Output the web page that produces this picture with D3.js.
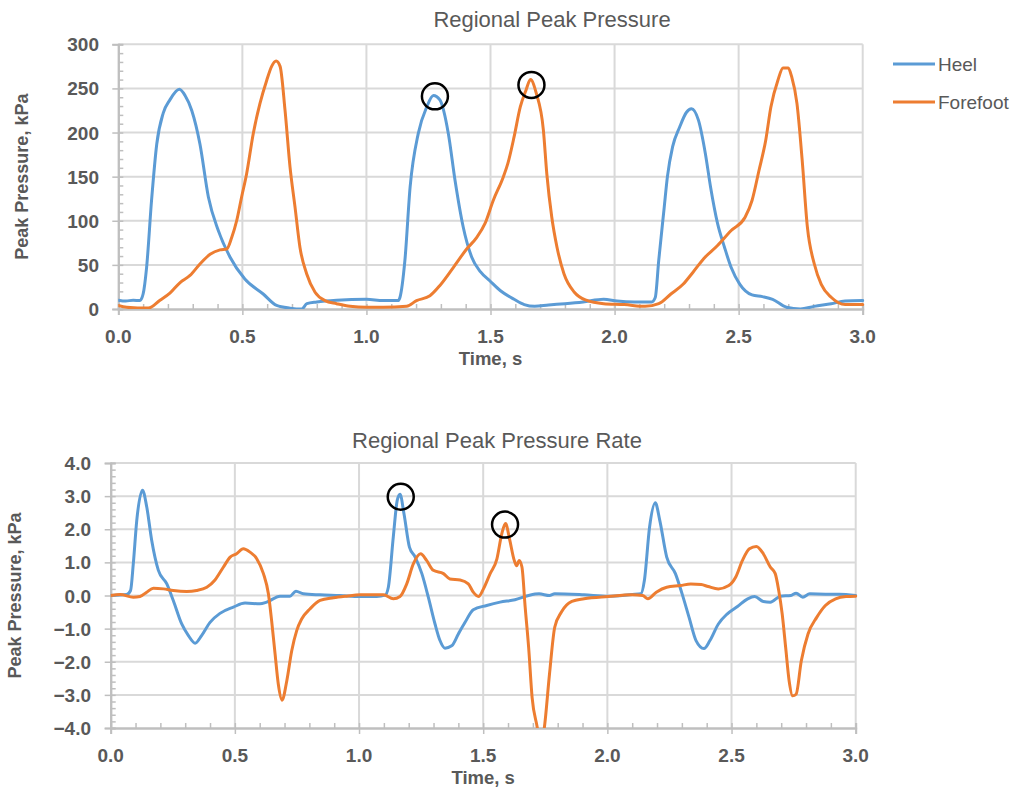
<!DOCTYPE html>
<html>
<head>
<meta charset="utf-8">
<script src="https://cdn.jsdelivr.net/npm/d3@7"></script>
<style>
  html, body { margin: 0; padding: 0; background: #ffffff; }
  svg { display: block; }
  text { font-family: "Liberation Sans", Arial, sans-serif; fill: #595959; }
</style>
</head>
<body>
<svg id="chart" width="1021" height="792"></svg>
<script>
// ---------------- DATA ----------------
const seriesNames = ["Heel", "Forefoot"];
const seriesColors = ["#5B9BD5", "#ED7D31"];

const timeTicks = [0.0, 0.5, 1.0, 1.5, 2.0, 2.5, 3.0];
const pressureTicks = [0, 50, 100, 150, 200, 250, 300];
const rateTicks = [-4, -3, -2, -1, 0, 1, 2, 3, 4];

// [time (s), peak pressure (kPa)]
const heelPressure = [[0,10],[0.03,9],[0.06,10],[0.087,9.5],[0.1,17],[0.114,47],[0.134,123],[0.155,187],[0.181,222],[0.208,237],[0.246,249],[0.269,242],[0.296,225],[0.329,187],[0.363,127],[0.403,89],[0.45,59],[0.51,34],[0.584,17],[0.638,4],[0.692,1],[0.739,0],[0.76,6],[0.8,8],[0.88,10],[1.0,11],[1.068,9.5],[1.128,9.5],[1.135,13],[1.155,55],[1.176,138],[1.209,199],[1.243,229],[1.27,242],[1.296,237],[1.33,199],[1.357,146],[1.39,93],[1.424,59],[1.46,42],[1.497,32],[1.539,21],[1.595,11],[1.636,5],[1.678,3],[1.734,4.5],[1.8,6],[1.873,8],[1.956,11],[2.01,9],[2.08,8],[2.15,8],[2.164,13],[2.178,55],[2.2,115],[2.213,150],[2.234,184],[2.262,206],[2.29,223],[2.31,227],[2.338,214],[2.366,176],[2.387,138],[2.415,97],[2.443,70],[2.47,47],[2.505,28],[2.554,16],[2.596,14],[2.637,11],[2.693,2],[2.749,0],[2.804,3],[2.873,6],[2.929,9],[3.0,9.5]];

const forefootPressure = [[0,4],[0.034,2],[0.121,1],[0.168,10],[0.208,18],[0.249,30],[0.289,38],[0.329,51],[0.37,62],[0.41,67],[0.437,68],[0.457,81],[0.477,100],[0.497,127],[0.517,153],[0.544,199],[0.571,233],[0.598,259],[0.618,275],[0.636,281],[0.652,275],[0.672,225],[0.692,161],[0.712,116],[0.732,70],[0.759,40],[0.793,19],[0.833,9.5],[0.88,6],[0.934,3],[1.0,2],[1.068,2],[1.162,3],[1.202,9.5],[1.256,15],[1.297,27],[1.35,47],[1.404,68],[1.444,81],[1.478,97],[1.511,123],[1.552,150],[1.57,165],[1.595,195],[1.62,229],[1.643,248],[1.661,260],[1.685,244],[1.713,203],[1.727,153],[1.747,104],[1.768,70],[1.796,40],[1.838,19],[1.886,10],[1.956,6],[2.039,5],[2.123,3],[2.178,6],[2.227,17],[2.276,28],[2.317,42],[2.359,57],[2.415,72],[2.47,89],[2.526,104],[2.554,123],[2.582,157],[2.609,191],[2.63,229],[2.658,259],[2.679,273],[2.7,273],[2.714,263],[2.735,233],[2.756,169],[2.777,93],[2.805,51],[2.833,28],[2.874,13],[2.929,5],[3.0,5]];

// [time (s), peak pressure rate]
const heelRate = [[0,0],[0.064,0.03],[0.08,0.15],[0.091,0.96],[0.105,2.27],[0.128,3.18],[0.145,2.68],[0.165,1.67],[0.192,0.76],[0.226,0.35],[0.252,-0.15],[0.286,-0.86],[0.313,-1.21],[0.34,-1.44],[0.366,-1.21],[0.4,-0.81],[0.44,-0.54],[0.494,-0.35],[0.541,-0.23],[0.601,-0.25],[0.628,-0.2],[0.682,-0.02],[0.722,-0.02],[0.746,0.13],[0.776,0.05],[0.843,0.02],[0.923,0],[1.004,-0.03],[1.071,-0.03],[1.105,0.01],[1.118,0.25],[1.138,1.77],[1.154,2.88],[1.165,3.06],[1.181,2.47],[1.203,1.46],[1.226,1.16],[1.253,0.66],[1.279,-0.05],[1.306,-0.86],[1.326,-1.36],[1.346,-1.59],[1.373,-1.52],[1.4,-1.16],[1.427,-0.81],[1.46,-0.43],[1.514,-0.3],[1.568,-0.2],[1.628,-0.13],[1.683,0],[1.725,0.05],[1.767,0],[1.788,0.05],[1.906,0.02],[2.003,-0.02],[2.1,0.03],[2.135,0.05],[2.149,0.45],[2.17,2.07],[2.193,2.8],[2.211,2.27],[2.239,1.16],[2.274,0.66],[2.301,0.05],[2.329,-0.66],[2.357,-1.36],[2.389,-1.6],[2.413,-1.36],[2.447,-0.86],[2.482,-0.56],[2.524,-0.33],[2.565,-0.1],[2.593,-0.03],[2.628,-0.18],[2.656,-0.2],[2.697,-0.02],[2.739,0],[2.76,0.07],[2.787,-0.05],[2.815,0.05],[2.878,0.04],[2.933,0.04],[3.0,0]];

const forefootRate = [[0,0],[0.038,0.03],[0.091,-0.05],[0.118,-0.03],[0.145,0.1],[0.172,0.22],[0.212,0.2],[0.252,0.15],[0.306,0.12],[0.346,0.15],[0.387,0.25],[0.42,0.47],[0.454,0.86],[0.481,1.16],[0.507,1.26],[0.534,1.41],[0.561,1.31],[0.588,1.11],[0.615,0.66],[0.635,0.05],[0.648,-0.76],[0.662,-1.77],[0.675,-2.68],[0.69,-3.16],[0.709,-2.58],[0.729,-1.67],[0.749,-1.06],[0.769,-0.71],[0.803,-0.4],[0.843,-0.15],[0.897,-0.07],[0.95,-0.02],[1.004,0.02],[1.098,0.02],[1.138,-0.1],[1.165,-0.03],[1.192,0.35],[1.219,0.96],[1.248,1.26],[1.272,1.06],[1.299,0.76],[1.34,0.66],[1.366,0.5],[1.407,0.47],[1.44,0.35],[1.46,0.1],[1.481,-0.03],[1.501,0.2],[1.528,0.66],[1.555,1.1],[1.575,1.87],[1.59,2.17],[1.607,1.67],[1.625,1.06],[1.635,0.9],[1.645,1.06],[1.656,0.86],[1.669,-0.35],[1.683,-1.57],[1.697,-3.08],[1.718,-4.0],[1.73,-4.6],[1.746,-4.0],[1.767,-2.37],[1.788,-0.96],[1.815,-0.5],[1.857,-0.18],[1.906,-0.1],[2.003,-0.03],[2.1,0.02],[2.142,0],[2.163,-0.1],[2.197,0.1],[2.239,0.25],[2.294,0.3],[2.336,0.35],[2.378,0.33],[2.406,0.27],[2.447,0.2],[2.489,0.3],[2.517,0.56],[2.544,1.06],[2.572,1.41],[2.6,1.48],[2.628,1.26],[2.656,0.86],[2.676,0.66],[2.69,0.15],[2.704,-0.56],[2.718,-1.57],[2.732,-2.58],[2.746,-3.03],[2.76,-2.98],[2.781,-1.97],[2.808,-1.16],[2.843,-0.66],[2.878,-0.3],[2.919,-0.1],[2.961,-0.03],[3.0,-0.02]];

// highlighted peaks (black circles)
const pressureMarks = [[1.276, 241], [1.665, 254]];
const rateMarks = [[1.168, 2.98], [1.588, 2.14]];

// ---------------- DRAW ----------------
const svg = d3.select("#chart");
const GRID = "#d9d9d9", AXIS = "#bfbfbf";

function panel(cfg) {
  const x = d3.scaleLinear().domain([0, 3]).range([cfg.x0, cfg.x1]);
  const y = d3.scaleLinear().domain(cfg.yDomain).range([cfg.yBottom, cfg.yTop]);
  const g = svg.append("g");
  const clipId = "clip" + cfg.id;
  svg.append("clipPath").attr("id", clipId).append("rect")
    .attr("x", cfg.x0).attr("y", cfg.yTop - 2)
    .attr("width", cfg.x1 - cfg.x0 + 2).attr("height", cfg.yBottom - cfg.yTop + 2);

  // horizontal gridlines
  g.selectAll(".hg").data(cfg.yTicks.filter(v => v !== cfg.yDomain[0])).enter().append("line")
    .attr("x1", cfg.x0).attr("x2", cfg.x1)
    .attr("y1", d => y(d)).attr("y2", d => y(d))
    .attr("stroke", GRID).attr("stroke-width", 2);
  // vertical gridlines
  g.selectAll(".vg").data(timeTicks.filter(v => v > 0)).enter().append("line")
    .attr("x1", d => x(d)).attr("x2", d => x(d))
    .attr("y1", cfg.yTop).attr("y2", cfg.yBottom)
    .attr("stroke", GRID).attr("stroke-width", 2);

  // y-axis: major ticks outward, minor ticks inward
  const yAxis = d3.axisLeft(y).tickValues(cfg.yTicks).tickSize(6).tickFormat("");
  const ya = g.append("g").attr("transform", `translate(${cfg.x0},0)`).call(yAxis);
  const yMinor = d3.axisRight(y).tickValues(d3.range(cfg.yDomain[0], cfg.yDomain[1] + 1e-9, cfg.yMinorStep)).tickSize(5).tickFormat("");
  const ym = g.append("g").attr("transform", `translate(${cfg.x0},0)`).call(yMinor);
  [ya, ym].forEach(a => {
    a.select(".domain").attr("stroke", AXIS).attr("stroke-width", 2);
    a.selectAll(".tick line").attr("stroke", AXIS).attr("stroke-width", 1.5);
  });

  // x-axis: major ticks outward, minor ticks inward
  const xAxis = d3.axisBottom(x).tickValues(timeTicks).tickSize(6).tickFormat("");
  const xa = g.append("g").attr("transform", `translate(0,${cfg.yBottom})`).call(xAxis);
  const xMinor = d3.axisTop(x).tickValues(d3.range(0, 3.0001, 0.1)).tickSize(5).tickFormat("");
  const xm = g.append("g").attr("transform", `translate(0,${cfg.yBottom})`).call(xMinor);
  [xa, xm].forEach(a => {
    a.select(".domain").attr("stroke", AXIS).attr("stroke-width", 2);
    a.selectAll(".tick line").attr("stroke", AXIS).attr("stroke-width", 1.5);
  });

  // tick labels
  g.selectAll(".yl").data(cfg.yTicks).enter().append("text")
    .attr("x", cfg.yLabelX).attr("y", d => y(d) + 7)
    .attr("text-anchor", "end").attr("font-size", 19).attr("font-weight", "bold")
    .text(d => cfg.yFormat(d));
  g.selectAll(".xl").data(timeTicks).enter().append("text")
    .attr("x", d => x(d)).attr("y", cfg.yBottom + 34)
    .attr("text-anchor", "middle").attr("font-size", 19).attr("font-weight", "bold")
    .text(d => d3.format(".1f")(d));

  // axis titles
  g.append("text").attr("x", (cfg.x0 + cfg.x1) / 2).attr("y", cfg.yBottom + 56)
    .attr("text-anchor", "middle").attr("font-size", 18.5).attr("font-weight", "bold")
    .text("Time, s");
  g.append("text")
    .attr("transform", `translate(${cfg.yTitleX},${(cfg.yTop + cfg.yBottom) / 2}) rotate(-90)`)
    .attr("text-anchor", "middle").attr("font-size", 18).attr("font-weight", "bold")
    .text("Peak Pressure, kPa");

  // chart title
  g.append("text").attr("x", cfg.titleX).attr("y", cfg.titleY)
    .attr("text-anchor", "middle").attr("font-size", 22)
    .text(cfg.title);

  // series lines
  const line = d3.line().x(d => x(d[0])).y(d => y(d[1])).curve(d3.curveMonotoneX);
  const lg = g.append("g").attr("clip-path", `url(#${clipId})`);
  cfg.series.forEach((s, i) => {
    lg.append("path").datum(s).attr("d", line)
      .attr("fill", "none").attr("stroke", seriesColors[i])
      .attr("stroke-width", 3).attr("stroke-linejoin", "round").attr("stroke-linecap", "round");
  });

  // highlighted peaks
  g.selectAll(".mk").data(cfg.marks).enter().append("circle")
    .attr("cx", d => x(d[0])).attr("cy", d => y(d[1])).attr("r", 13)
    .attr("fill", "none").attr("stroke", "#000").attr("stroke-width", 2.5);
}

panel({
  id: "top", x0: 118.3, x1: 862.7, yTop: 44.3, yBottom: 309,
  yDomain: [0, 300], yTicks: pressureTicks, yMinorStep: 10,
  yFormat: d => d3.format("d")(d), yLabelX: 99, yTitleX: 28,
  title: "Regional Peak Pressure", titleX: 552, titleY: 27,
  series: [heelPressure, forefootPressure], marks: pressureMarks
});

panel({
  id: "bot", x0: 110.7, x1: 855.7, yTop: 463, yBottom: 728,
  yDomain: [-4, 4], yTicks: rateTicks, yMinorStep: 0.2,
  yFormat: d => d3.format(".1f")(d), yLabelX: 91, yTitleX: 21,
  title: "Regional Peak Pressure Rate", titleX: 497, titleY: 448,
  series: [heelRate, forefootRate], marks: rateMarks
});

// legend (top chart)
const legend = svg.append("g");
seriesNames.forEach((name, i) => {
  const ly = 64 + i * 38;
  legend.append("line").attr("x1", 893).attr("x2", 935).attr("y1", ly).attr("y2", ly)
    .attr("stroke", seriesColors[i]).attr("stroke-width", 3);
  legend.append("text").attr("x", 938).attr("y", ly + 7)
    .attr("font-size", 19).text(name);
});
</script>
</body>
</html>
